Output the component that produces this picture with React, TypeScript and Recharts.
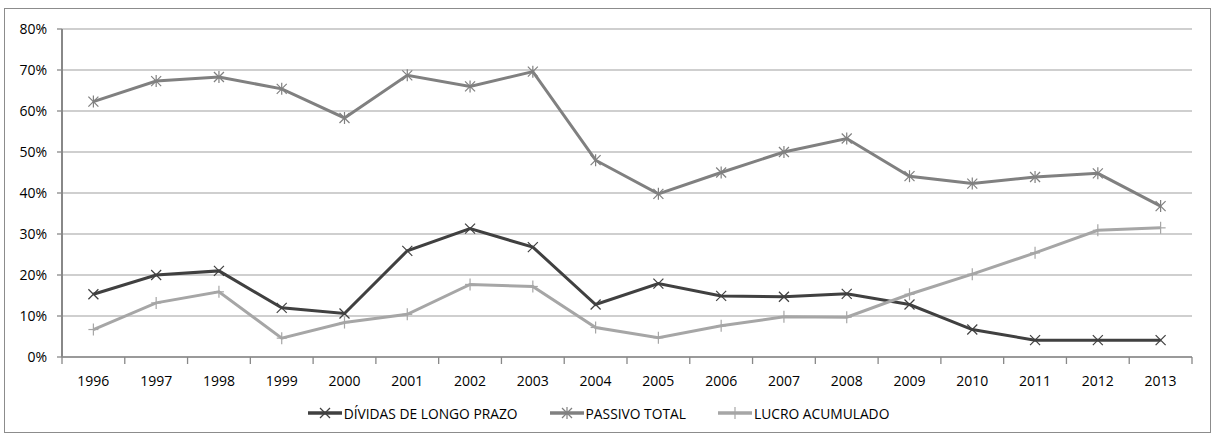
import { LineChart, Line, XAxis, YAxis, CartesianGrid, Legend } from 'recharts';

const years = ['1996', '1997', '1998', '1999', '2000', '2001', '2002', '2003', '2004', '2005', '2006', '2007', '2008', '2009', '2010', '2011', '2012', '2013'];
const dividas = [15.3, 20.0, 21.0, 12.0, 10.6, 25.9, 31.3, 26.8, 12.8, 17.9, 14.9, 14.7, 15.4, 12.8, 6.7, 4.1, 4.1, 4.1];
const passivo = [62.3, 67.3, 68.3, 65.4, 58.3, 68.7, 66.0, 69.6, 48.0, 39.8, 45.0, 50.0, 53.3, 44.1, 42.3, 43.9, 44.8, 36.8];
const lucro = [6.7, 13.2, 15.9, 4.6, 8.4, 10.4, 17.7, 17.2, 7.2, 4.7, 7.6, 9.8, 9.7, 15.3, 20.2, 25.4, 30.9, 31.5];
const yTicks = [0, 10, 20, 30, 40, 50, 60, 70, 80];

const data = years.map((y, i) => ({ year: y, dividas: dividas[i], passivo: passivo[i], lucro: lucro[i] }));

const W = 1205;
const H = 423;
const MARGIN = { top: 20, right: 18, left: 0, bottom: 8 };
const Y_W = 57;
const STEP = (W - MARGIN.left - MARGIN.right - Y_W) / years.length;
const FONT = '"Open Sans", sans-serif';
const TICK_SIZE = 7;
const TICK_MARGIN = 4;

const C_DIV = '#404040';
const C_PAS = '#808080';
const C_LUC = '#a6a6a6';

type Mark = 'x' | 'star' | 'plus';

function marker(kind: Mark, cx: number, cy: number, color: string) {
  const r = 5;
  return (
    <g stroke={color} strokeWidth={1.2} fill="none">
      {kind !== 'plus' && <line x1={cx - r} y1={cy - r} x2={cx + r} y2={cy + r} />}
      {kind !== 'plus' && <line x1={cx - r} y1={cy + r} x2={cx + r} y2={cy - r} />}
      {kind !== 'x' && <line x1={cx} y1={cy - 6} x2={cx} y2={cy + 6} />}
      {kind === 'plus' && <line x1={cx - 5} y1={cy} x2={cx + 5} y2={cy} />}
    </g>
  );
}

const dotFor = (kind: Mark, color: string) => (p: any) => (
  <g key={`${kind}-${p.index}`}>{marker(kind, p.cx, p.cy, color)}</g>
);

const YearTick = (p: any) => {
  const axisY = p.y - TICK_SIZE - TICK_MARGIN;
  const left = p.x - STEP / 2;
  const last = p.index === years.length - 1;
  return (
    <g>
      <line x1={left} x2={left} y1={axisY} y2={axisY + TICK_SIZE} stroke="#888" strokeWidth={1.3} />
      {last && <line x1={p.x + STEP / 2} x2={p.x + STEP / 2} y1={axisY} y2={axisY + TICK_SIZE} stroke="#888" strokeWidth={1.3} />}
      <text x={p.x} y={axisY + 23} textAnchor="middle" dominantBaseline="central" fontSize={14} fontFamily={FONT} fill="#000">
        {p.payload.value}
      </text>
    </g>
  );
};

const legendItems: { label: string; kind: Mark; color: string }[] = [
  { label: 'DÍVIDAS DE LONGO PRAZO', kind: 'x', color: C_DIV },
  { label: 'PASSIVO TOTAL', kind: 'star', color: C_PAS },
  { label: 'LUCRO ACUMULADO', kind: 'plus', color: C_LUC },
];

const ChartLegend = () => (
  <div style={{ display: 'flex', justifyContent: 'center', alignItems: 'center', gap: 32, height: 22, fontFamily: FONT, fontSize: 13.8, color: '#000' }}>
    {legendItems.map((it) => (
      <div key={it.label} style={{ display: 'flex', alignItems: 'center' }}>
        <svg width={34} height={14}>
          <line x1={0} x2={34} y1={7} y2={7} stroke={it.color} strokeWidth={3.5} />
          {marker(it.kind, 17, 7, it.color)}
        </svg>
        <span style={{ marginLeft: 2 }}>{it.label}</span>
      </div>
    ))}
  </div>
);

export default function App() {
  return (
    <div style={{ position: 'absolute', left: 4, top: 8, width: W, height: H, border: '1px solid #8c8c8c', background: '#fff' }}>
      <LineChart width={W} height={H} data={data} margin={MARGIN}>
        <CartesianGrid vertical={false} stroke="#a0a0a0" strokeWidth={1.2} />
        <XAxis
          dataKey="year"
          height={45}
          padding={{ left: STEP / 2, right: STEP / 2 }}
          axisLine={{ stroke: '#888', strokeWidth: 1.5 }}
          tickLine={false}
          tickSize={TICK_SIZE}
          tickMargin={TICK_MARGIN}
          tick={<YearTick />}
          interval={0}
        />
        <YAxis
          width={Y_W}
          domain={[0, 80]}
          ticks={yTicks}
          tickFormatter={(v) => `${v}%`}
          axisLine={{ stroke: '#888', strokeWidth: 2 }}
          tickLine={{ stroke: '#888', strokeWidth: 1.3 }}
          tickSize={5}
          tickMargin={10}
          tick={{ fontSize: 14, fontFamily: FONT, fill: '#000' }}
        />
        <Legend verticalAlign="bottom" content={<ChartLegend />} />
        <Line dataKey="dividas" name="DÍVIDAS DE LONGO PRAZO" stroke={C_DIV} strokeWidth={3} dot={dotFor('x', C_DIV)} activeDot={false} isAnimationActive={false} />
        <Line dataKey="passivo" name="PASSIVO TOTAL" stroke={C_PAS} strokeWidth={3} dot={dotFor('star', C_PAS)} activeDot={false} isAnimationActive={false} />
        <Line dataKey="lucro" name="LUCRO ACUMULADO" stroke={C_LUC} strokeWidth={3} dot={dotFor('plus', C_LUC)} activeDot={false} isAnimationActive={false} />
      </LineChart>
    </div>
  );
}
